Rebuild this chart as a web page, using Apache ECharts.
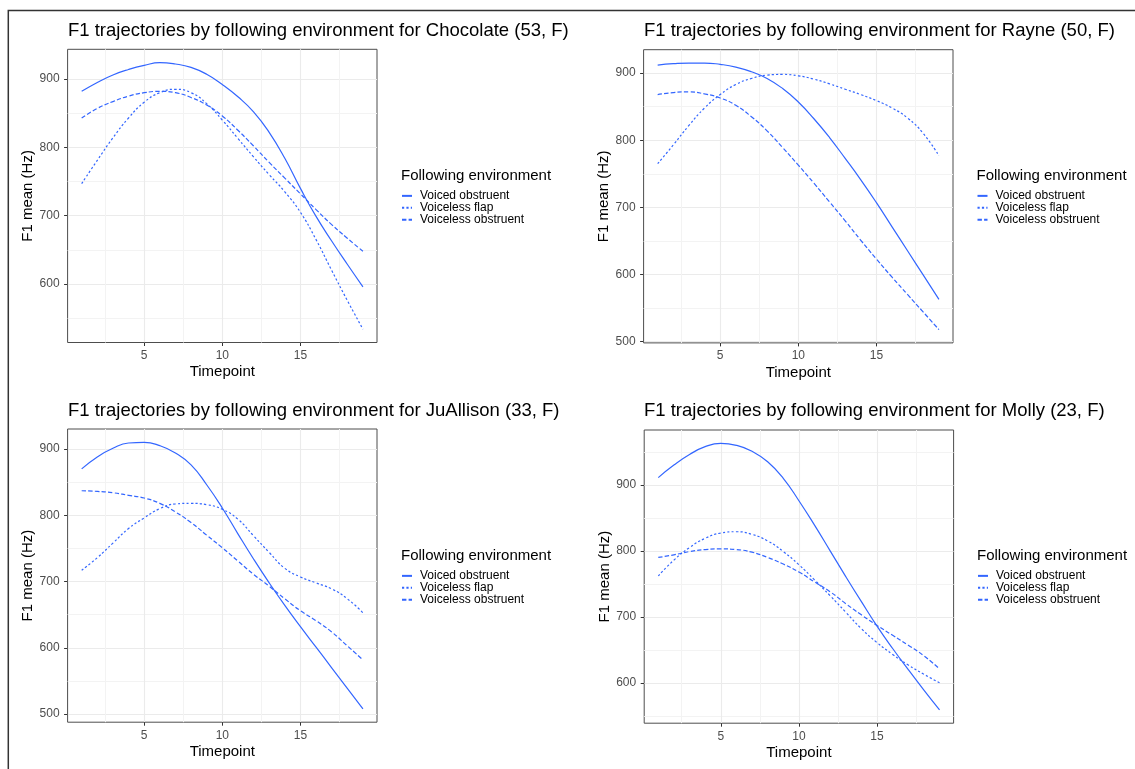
<!DOCTYPE html>
<html>
<head>
<meta charset="utf-8">
<title>F1 trajectories</title>
<script src="https://cdn.jsdelivr.net/npm/echarts@6/dist/echarts.min.js"></script>
<style>
  html, body { margin: 0; padding: 0; background: #fff; }
  #chart { width: 1135px; height: 769px; }
</style>
</head>
<body>
<div id="chart"></div>
<script>
//------------------- data --------------
var timepoints = [1, 2, 3, 4, 5, 6, 7, 8, 9, 10, 11, 12, 13, 14, 15, 16, 17, 18, 19];
var envNames = ['Voiced obstruent', 'Voiceless flap', 'Voiceless obstruent'];
var speakers = ['Chocolate (53, F)', 'Rayne (50, F)', 'JuAllison (33, F)', 'Molly (23, F)'];

var chocolateVoiced     = [882, 895, 906, 914, 920, 924, 922, 917, 907, 892, 874, 852, 822, 784, 740, 699, 663, 629, 596];
var chocolateFlap       = [747, 781, 814, 843, 866, 880, 885, 880, 864, 840, 813, 786, 760, 735, 705, 665, 620, 576, 534];
var chocolateObstruent  = [843, 857, 867, 875, 880, 882, 880, 873, 862, 846, 825, 802, 778, 755, 732, 709, 687, 667, 648];

var rayneVoiced         = [912, 914, 915, 915, 913, 909, 902, 892, 877, 857, 832, 804, 773, 741, 707, 671, 635, 599, 563];
var rayneFlap           = [765, 793, 822, 848, 868, 883, 892, 897, 898, 896, 891, 884, 876, 868, 859, 848, 833, 810, 777];
var rayneObstruent      = [868, 871, 872, 869, 863, 852, 835, 814, 789, 763, 736, 708, 680, 651, 623, 596, 570, 544, 518];

var juallisonVoiced     = [870, 888, 901, 909, 910, 905, 894, 876, 846, 811, 772, 734, 698, 664, 632, 601, 570, 539, 508];
var juallisonFlap       = [717, 736, 758, 780, 796, 810, 817, 818, 816, 809, 794, 769, 744, 720, 707, 698, 689, 674, 653];
var juallisonObstruent  = [837, 836, 834, 830, 826, 818, 805, 789, 770, 751, 731, 711, 693, 674, 656, 641, 624, 603, 582];

var mollyVoiced         = [911, 930, 946, 958, 963, 960, 951, 935, 910, 876, 839, 800, 761, 723, 686, 652, 620, 589, 559];
var mollyFlap           = [762, 786, 805, 819, 827, 829, 825, 815, 799, 779, 756, 732, 707, 682, 661, 643, 627, 613, 600];
var mollyObstruent      = [790, 794, 799, 802, 803, 802, 798, 790, 780, 768, 753, 738, 720, 703, 687, 672, 657, 641, 621];

var xTickLabels = [5, 10, 15];
var xMinorTicks = [2.5, 7.5, 12.5, 17.5];
var yTickLabels = [500, 600, 700, 800, 900];
var yMinorTicks = [550, 650, 750, 850, 950];

//------------------- layout --------------
var panelData = [
  [chocolateVoiced, chocolateFlap, chocolateObstruent],
  [rayneVoiced, rayneFlap, rayneObstruent],
  [juallisonVoiced, juallisonFlap, juallisonObstruent],
  [mollyVoiced, mollyFlap, mollyObstruent]
];
var panelBox = [
  { left: 67.6,  top: 49.3, titleLeft: 68,  titleY: 31.3,  legLeft: 401,   legY: 175.7 },
  { left: 643.6, top: 49.7, titleLeft: 644, titleY: 31.3,  legLeft: 976.5, legY: 175.7 },
  { left: 67.6,  top: 429,  titleLeft: 68,  titleY: 411.3, legLeft: 401,   legY: 555.7 },
  { left: 644.2, top: 430,  titleLeft: 644, titleY: 411.3, legLeft: 977,   legY: 555.7 }
];
var plotW = 309.4, plotH = 293.2;
var lineColor = '#3366FF';
var dashes = ['solid', [2.2, 2.2], [4.4, 2.2]];
var font = 'Liberation Sans, Arial, Helvetica, sans-serif';

var grids = [], xAxes = [], yAxes = [], series = [], titles = [], legends = [];

function inRange(list, lo, hi) {
  return list.filter(function (v) { return v >= lo && v <= hi; });
}

for (var p = 0; p < 4; p++) {
  var box = panelBox[p];
  var all = [].concat(panelData[p][0], panelData[p][1], panelData[p][2]);
  var lo = Math.min.apply(null, all), hi = Math.max.apply(null, all);
  var yMin = lo - (hi - lo) * 0.05, yMax = hi + (hi - lo) * 0.05;
  var xMin = 0.1, xMax = 19.9;

  grids.push({
    left: box.left, top: box.top, width: plotW, height: plotH,
    show: true, borderColor: '#4d4d4d', borderWidth: 1, backgroundColor: '#fff', z: 0
  });

  // minor grid axes
  xAxes.push({
    type: 'value', gridIndex: p, min: xMin, max: xMax, position: 'top',
    axisLine: { show: false },
    axisTick: { show: false, customValues: xMinorTicks },
    axisLabel: { show: false, customValues: xMinorTicks },
    splitLine: { show: true, lineStyle: { color: '#F3F3F3', width: 1 } }
  });
  yAxes.push({
    type: 'value', gridIndex: p, min: yMin, max: yMax, position: 'right',
    axisLine: { show: false },
    axisTick: { show: false, customValues: inRange(yMinorTicks, yMin, yMax) },
    axisLabel: { show: false, customValues: inRange(yMinorTicks, yMin, yMax) },
    splitLine: { show: true, lineStyle: { color: '#F3F3F3', width: 1 } }
  });
  // major axes
  xAxes.push({
    type: 'value', gridIndex: p, min: xMin, max: xMax, position: 'bottom',
    axisLine: { show: false },
    axisTick: { show: true, length: 3.5, lineStyle: { color: '#333', width: 1 }, customValues: xTickLabels },
    axisLabel: { customValues: xTickLabels, color: '#4D4D4D', fontSize: 12, margin: 7, fontFamily: font },
    splitLine: { show: true, lineStyle: { color: '#EBEBEB', width: 1.1 } },
    name: 'Timepoint', nameLocation: 'middle', nameGap: 22,
    nameTextStyle: { color: '#000', fontSize: 15, fontFamily: font }
  });
  var yt = inRange(yTickLabels, yMin, yMax);
  yAxes.push({
    type: 'value', gridIndex: p, min: yMin, max: yMax, position: 'left',
    axisLine: { show: false },
    axisTick: { show: true, length: 3.5, lineStyle: { color: '#333', width: 1 }, customValues: yt },
    axisLabel: { customValues: yt, color: '#4D4D4D', fontSize: 12, margin: 8, fontFamily: font },
    splitLine: { show: true, lineStyle: { color: '#EBEBEB', width: 1.1 } },
    name: 'F1 mean (Hz)', nameLocation: 'middle', nameGap: 29, nameRotate: 90,
    nameTextStyle: { color: '#000', fontSize: 15, fontFamily: font }
  });

  for (var s = 0; s < 3; s++) {
    var vals = panelData[p][s];
    series.push({
      name: envNames[s], type: 'line',
      xAxisIndex: p * 2 + 1, yAxisIndex: p * 2 + 1,
      data: timepoints.map(function (t, k) { return [t, vals[k]]; }),
      showSymbol: false, symbol: 'none', smooth: 0.5, silent: true,
      lineStyle: { color: lineColor, width: 1.2, type: dashes[s] },
      itemStyle: { color: lineColor },
      z: 5
    });
  }

  titles.push({
    text: 'F1 trajectories by following environment for ' + speakers[p],
    left: box.titleLeft, top: box.titleY - 9.25, padding: 0,
    textStyle: { fontSize: 18.5, lineHeight: 18.5, fontWeight: 'normal', color: '#000', fontFamily: font }
  });
  titles.push({
    text: 'Following environment',
    left: box.legLeft, top: box.legY - 7.5, padding: 0,
    textStyle: { fontSize: 15, lineHeight: 15, fontWeight: 'normal', color: '#000', fontFamily: font }
  });
  legends.push({
    data: envNames, orient: 'vertical',
    left: box.legLeft, top: box.legY + 20 - 5.83, padding: 0,
    itemWidth: 10, itemHeight: 11.67, itemGap: 0,
    selectedMode: false,
    itemStyle: { opacity: 0 },
    textStyle: { fontSize: 12, lineHeight: 11.67, color: '#000', fontFamily: font, padding: [0, 0, 0, 3] }
  });
}

//------------------- option --------------
var option = {
  animation: false,
  backgroundColor: '#fff',
  title: titles,
  legend: legends,
  grid: grids,
  xAxis: xAxes,
  yAxis: yAxes,
  series: series,
  graphic: [{
    type: 'rect', silent: true, z: 100,
    shape: { x: 8.3, y: 10.5, width: 1200, height: 800 },
    style: { fill: 'none', stroke: '#333', lineWidth: 1.5 }
  }]
};

echarts.init(document.getElementById('chart'), null, { renderer: 'canvas' }).setOption(option);
</script>
</body>
</html>
